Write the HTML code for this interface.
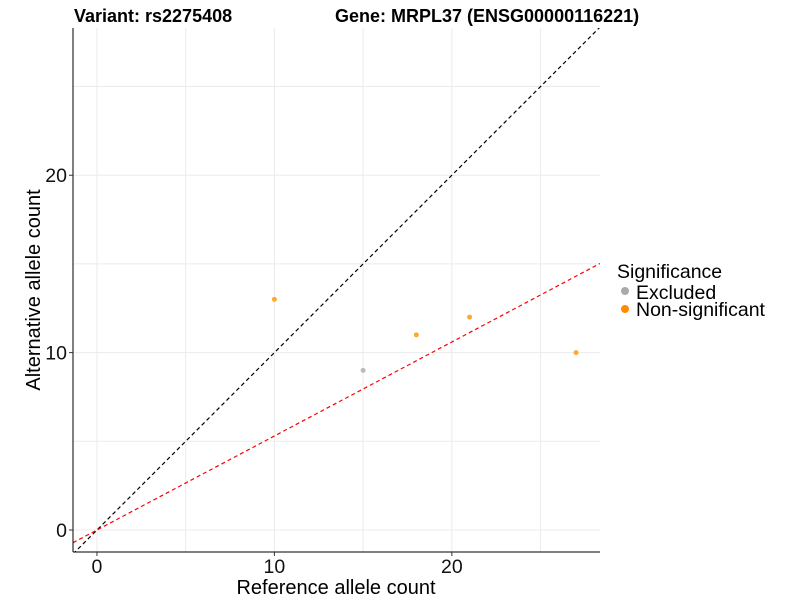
<!DOCTYPE html>
<html><head><meta charset="utf-8"><style>
body{margin:0;background:#fff;font-family:"Liberation Sans",Arial,sans-serif}
svg text{font-family:"Liberation Sans",Arial,sans-serif}
</style></head><body>
<svg id="chart" width="800" height="600" xmlns="http://www.w3.org/2000/svg">
<g id="grid"></g>
<g id="lines"></g>
<g id="points"></g>
<g id="axes"></g>
<text x="74" y="22" font-size="18" font-weight="bold">Variant: rs2275408</text>
<text x="335" y="22" font-size="18" font-weight="bold">Gene: MRPL37 (ENSG00000116221)</text>
<text x="336" y="594" font-size="20" text-anchor="middle">Reference allele count</text>
<text transform="translate(40,290) rotate(-90)" font-size="20" text-anchor="middle">Alternative allele count</text>
<g>
<text x="617" y="278" font-size="19.5">Significance</text>
<circle cx="625" cy="291" r="4" fill="#aaaaaa"/>
<text x="636" y="299" font-size="19.5">Excluded</text>
<circle cx="625" cy="309" r="4" fill="#ff8c00"/>
<text x="636" y="316" font-size="19.5">Non-significant</text>
</g>
</svg>
<script>
const refCounts=[10,15,18,21,27];
const altCounts=[13,9,11,12,10];
const categories=["Non-significant","Excluded","Non-significant","Non-significant","Non-significant"];
const ticks=[0,10,20];
const minorTicks=[5,15,25];
const redSlope=0.53;
const ns="http://www.w3.org/2000/svg";
const L=73,R=600,T=28,B=552;
const xmin=-1.35,xmax=28.35,ymin=-1.24,ymax=28.3;
const sx=v=>L+(v-xmin)/(xmax-xmin)*(R-L);
const sy=v=>B-(v-ymin)/(ymax-ymin)*(B-T);
function mk(tag,attrs,parent){const e=document.createElementNS(ns,tag);for(const k in attrs)e.setAttribute(k,attrs[k]);document.getElementById(parent).appendChild(e);return e;}
minorTicks.concat(ticks).forEach(t=>{
 const a=mk('line',{x1:sx(t),x2:sx(t),y1:T,y2:B,stroke:'#ebebeb','stroke-width':1},'grid');
 
 
 const b=mk('line',{x1:L,x2:R,y1:sy(t),y2:sy(t),stroke:'#ebebeb','stroke-width':1},'grid');
 
 
});
const cp=mk('clipPath',{id:'clip'},'lines');const r=document.createElementNS(ns,'rect');
r.setAttribute('x',L);r.setAttribute('y',T);r.setAttribute('width',R-L);r.setAttribute('height',B-T);cp.appendChild(r);
const d1=mk('line',{x1:sx(xmin),y1:sy(xmin),x2:sx(xmax),y2:sy(xmax),stroke:'#000','stroke-dasharray':'4,3','stroke-width':1.2,'clip-path':'url(#clip)'},'lines');


const d2=mk('line',{x1:sx(xmin),y1:sy(xmin*redSlope),x2:sx(xmax),y2:sy(xmax*redSlope),stroke:'#ff0000','stroke-dasharray':'4,3','stroke-width':1.2},'lines');


refCounts.forEach((x,i)=>{
 const c=mk('circle',{cx:sx(x),cy:sy(altCounts[i]),r:2.5,fill:categories[i]==='Excluded'?'#bbbbbb':'#ffa830'},'points');
 
 
});
const ax=mk('line',{x1:L,x2:L,y1:T,y2:B,stroke:'#000','stroke-width':1},'axes');


const ay=mk('line',{x1:L,x2:R,y1:B,y2:B,stroke:'#000','stroke-width':1},'axes');


ticks.forEach(t=>{
 const tx=mk('line',{x1:sx(t),x2:sx(t),y1:B,y2:B+4,stroke:'#333'},'axes');
 
 
 const lx=mk('text',{x:sx(t),y:B+21,'font-size':19.5,'text-anchor':'middle',fill:'#111'},'axes');lx.textContent=t;
 
 
 const ty=mk('line',{x1:L-4,x2:L,y1:sy(t),y2:sy(t),stroke:'#333'},'axes');
 
 
 const ly=mk('text',{x:L-6,y:sy(t)+7,'font-size':19.5,'text-anchor':'end',fill:'#111'},'axes');ly.textContent=t;
 
 
});
</script>
</body></html>
